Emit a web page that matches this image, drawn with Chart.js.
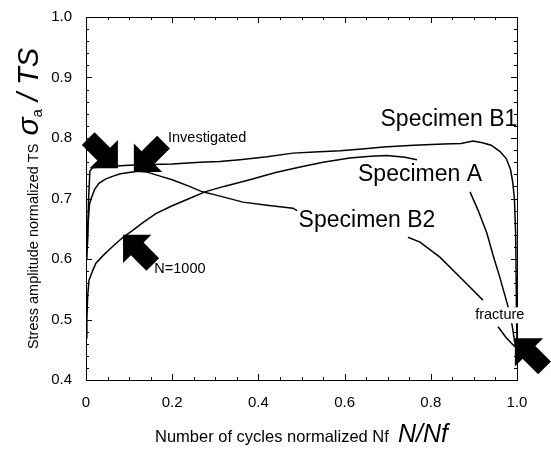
<!DOCTYPE html>
<html>
<head>
<meta charset="utf-8">
<title>Stress amplitude vs normalized cycles</title>
<script src="https://cdn.jsdelivr.net/npm/chart.js@4.4.1/dist/chart.umd.min.js"></script>
<style>
    html, body { margin: 0; padding: 0; background: #ffffff; }
    #wrap { width: 551px; height: 455px; }
</style>
</head>
<body>
<div id="wrap"><canvas id="chart" width="551" height="455"></canvas></div>
<script>
// Values (null = gap where a label sits on the curve)
const b1X = [0.003, 0.006, 0.009, 0.015, 0.05, 0.1, 0.15, 0.2, 0.265, 0.31, 0.357, 0.42, 0.48, 0.53, 0.59, 0.64, 0.69, 0.76, 0.83, 0.87, 0.898, 0.92, 0.94, 0.96, 0.975, 0.985, 0.99, 0.994, 0.997, 0.998, 0.999, 1.0];
const b1Y = [0.62, 0.70, 0.745, 0.751, 0.753, 0.755, 0.756, 0.757, 0.760, 0.761, 0.764, 0.769, 0.775, 0.777, 0.779, 0.782, 0.785, 0.788, 0.790, 0.791, 0.795, 0.792, 0.788, 0.778, 0.766, 0.748, 0.727, 0.70, 0.64, 0.57, 0.50, 0.46];

const b2X = [0.002, 0.005, 0.008, 0.012, 0.02, 0.03, 0.045, 0.063, 0.08, 0.1, 0.12, 0.14, 0.172, 0.2, 0.24, 0.27, 0.3, 0.364, 0.42, 0.48, 0.49, 0.6, 0.747, 0.775, 0.821, 0.875, 0.921, 0.94, 0.956, 0.975, 0.995];
const b2Y = [0.60, 0.66, 0.69, 0.70, 0.715, 0.725, 0.732, 0.737, 0.741, 0.743, 0.745, 0.744, 0.737, 0.731, 0.720, 0.711, 0.706, 0.694, 0.689, 0.684, 0.680, null, 0.636, 0.628, 0.603, 0.565, 0.532, null, 0.488, 0.470, 0.455];

const aX = [0.0, 0.002, 0.004, 0.007, 0.015, 0.023, 0.04, 0.053, 0.07, 0.086, 0.11, 0.132, 0.162, 0.2, 0.24, 0.276, 0.32, 0.38, 0.44, 0.497, 0.55, 0.612, 0.66, 0.698, 0.74, 0.768, 0.83, 0.891, 0.91, 0.93, 0.945, 0.96, 0.977, 0.985, 0.99, 0.995];
const aY = [0.47, 0.50, 0.54, 0.565, 0.58, 0.593, 0.606, 0.615, 0.626, 0.636, 0.648, 0.660, 0.675, 0.688, 0.700, 0.711, 0.720, 0.731, 0.743, 0.752, 0.760, 0.767, 0.770, 0.771, 0.768, 0.764, null, 0.711, 0.680, 0.643, 0.605, 0.570, 0.527, 0.505, 0.485, 0.460];

const xTicks = [0, 0.2, 0.4, 0.6, 0.8, 1.0];
const yTicks = [0.4, 0.5, 0.6, 0.7, 0.8, 0.9, 1.0];

// Text labels placed in data coordinates
const noteText = ['Specimen B1', 'Specimen A', 'Specimen B2', 'Investigated', 'N=1000', 'fracture'];
const noteX = [0.842, 0.775, 0.652, 0.281, 0.218, 0.96];
const noteY = [0.83, 0.739, 0.664, 0.80, 0.583, 0.507];
const noteSize = [23, 23, 23, 14.5, 14.5, 14.5];

// Block arrows: tip in data coordinates, pointing angle in degrees (screen)
const arrowX = [0.074, 0.111, 0.086, 0.995];
const arrowY = [0.750, 0.744, 0.640, 0.469];
const arrowAngle = [45, 135, -135, -135];

const FONT = '"Liberation Sans", Arial, Helvetica, sans-serif';

function toPoints(xs, ys) {
    return xs.map((x, i) => ({ x: x, y: ys[i] }));
}

function drawArrow(ctx, px, py, angleDeg) {
    ctx.save();
    ctx.translate(px, py);
    ctx.rotate(angleDeg * Math.PI / 180);
    ctx.beginPath();
    ctx.moveTo(0, 0);
    ctx.lineTo(-20, -20);
    ctx.lineTo(-20, -9);
    ctx.lineTo(-42, -9);
    ctx.lineTo(-42, 9);
    ctx.lineTo(-20, 9);
    ctx.lineTo(-20, 20);
    ctx.closePath();
    ctx.fillStyle = '#000';
    ctx.fill();
    ctx.restore();
}

// Frame, inward ticks, notes, arrows and the mixed-style axis titles
const decorPlugin = {
    id: 'decor',
    afterDraw(chart) {
        const ctx = chart.ctx;
        const area = chart.chartArea;
        const xs = chart.scales.x;
        const ys = chart.scales.y;

        ctx.save();
        ctx.strokeStyle = '#000';
        ctx.lineWidth = 1;
        ctx.strokeRect(area.left + 0.5, area.top + 0.5, area.right - area.left, area.bottom - area.top);

        ctx.beginPath();
        for (let i = 0; i <= 20; i++) {
            const px = Math.round(xs.getPixelForValue(i * 0.05)) + 0.5;
            const len = (i % 4 === 0) ? 6 : 3;
            ctx.moveTo(px, area.bottom);
            ctx.lineTo(px, area.bottom - len);
            ctx.moveTo(px, area.top);
            ctx.lineTo(px, area.top + len);
        }
        for (let i = 0; i <= 30; i++) {
            const py = Math.round(ys.getPixelForValue(0.4 + i * 0.02)) + 0.5;
            const len = (i % 5 === 0) ? 6 : 3;
            ctx.moveTo(area.left, py);
            ctx.lineTo(area.left + len, py);
            ctx.moveTo(area.right, py);
            ctx.lineTo(area.right - len, py);
        }
        ctx.stroke();

        // notes
        ctx.textAlign = 'center';
        ctx.textBaseline = 'middle';
        noteText.forEach((t, i) => {
            const px = xs.getPixelForValue(noteX[i]);
            const py = ys.getPixelForValue(noteY[i]);
            ctx.font = noteSize[i] + 'px ' + FONT;
            if (t === 'fracture') {
                const w = ctx.measureText(t).width;
                ctx.fillStyle = '#fff';
                ctx.fillRect(px - w / 2 - 1, py - 8, w + 2, 16);
            }
            ctx.fillStyle = '#000';
            ctx.fillText(t, px, py);
        });

        arrowX.forEach((x, i) => {
            drawArrow(ctx, xs.getPixelForValue(x), ys.getPixelForValue(arrowY[i]), arrowAngle[i]);
        });

        // x axis title
        ctx.textBaseline = 'alphabetic';
        ctx.textAlign = 'left';
        const xSmall = 'Number of cycles normalized Nf  ';
        const xBig = 'N/Nf';
        ctx.font = '16.5px ' + FONT;
        const wS = ctx.measureText(xSmall).width;
        ctx.font = 'italic 25px ' + FONT;
        const wB = ctx.measureText(xBig).width;
        let x0 = (area.left + area.right) / 2 - (wS + wB) / 2;
        ctx.font = '16.5px ' + FONT;
        ctx.fillText(xSmall, x0, 442);
        ctx.font = 'italic 25px ' + FONT;
        ctx.fillText(xBig, x0 + wS, 442);

        // y axis title (rotated)
        ctx.save();
        ctx.translate(38, (area.top + area.bottom) / 2);
        ctx.rotate(-Math.PI / 2);
        const parts = [
            { t: 'Stress amplitude normalized TS  ', f: '14.5px ' + FONT, dy: 0 },
            { t: '\u03c3', f: 'italic 30px ' + FONT, dy: 0 },
            { t: 'a', f: '15px ' + FONT, dy: 4 },
            { t: ' / TS', f: 'italic 29px ' + FONT, dy: 0 }
        ];
        let total = 0;
        parts.forEach(p => { ctx.font = p.f; p.w = ctx.measureText(p.t).width; total += p.w; });
        let cx = -total / 2;
        parts.forEach(p => {
            ctx.font = p.f;
            ctx.fillText(p.t, cx, p.dy);
            cx += p.w;
        });
        ctx.restore();
        ctx.restore();
    }
};

const lineStyle = {
    showLine: true,
    borderColor: '#000',
    borderWidth: 1.5,
    pointRadius: 0,
    tension: 0,
    spanGaps: false
};

new Chart(document.getElementById('chart'), {
    type: 'scatter',
    data: {
        datasets: [
            Object.assign({ label: 'Specimen B1', data: toPoints(b1X, b1Y) }, lineStyle),
            Object.assign({ label: 'Specimen B2', data: toPoints(b2X, b2Y) }, lineStyle),
            Object.assign({ label: 'Specimen A', data: toPoints(aX, aY) }, lineStyle)
        ]
    },
    options: {
        responsive: false,
        animation: false,
        devicePixelRatio: 1,
        layout: { padding: { left: 0, right: 34, top: 17, bottom: 0 } },
        plugins: {
            legend: { display: false },
            tooltip: { enabled: false }
        },
        scales: {
            x: {
                type: 'linear',
                min: 0,
                max: 1,
                afterFit: s => { s.height = 75; },
                afterBuildTicks: s => { s.ticks = xTicks.map(v => ({ value: v })); },
                ticks: {
                    color: '#000',
                    font: { family: FONT, size: 15 },
                    padding: 6,
                    maxRotation: 0,
                    callback: v => v === 0 ? '0' : v.toFixed(1)
                },
                grid: { display: false },
                border: { display: false }
            },
            y: {
                type: 'linear',
                min: 0.4,
                max: 1.0,
                afterFit: s => { s.width = 86; },
                afterBuildTicks: s => { s.ticks = yTicks.map(v => ({ value: v })); },
                ticks: {
                    color: '#000',
                    font: { family: FONT, size: 15 },
                    padding: 6,
                    callback: v => v.toFixed(1)
                },
                grid: { display: false },
                border: { display: false }
            }
        }
    },
    plugins: [decorPlugin]
});
</script>
</body>
</html>
